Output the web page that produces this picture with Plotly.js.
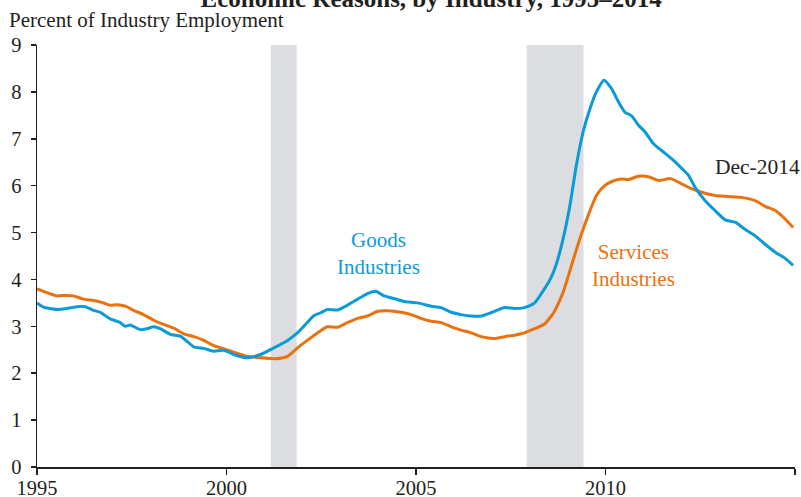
<!DOCTYPE html>
<html>
<head>
<meta charset="utf-8">
<script src="https://cdn.plot.ly/plotly-3.0.1.min.js"></script>
<style>html,body{margin:0;padding:0;background:#fff;}#chart{width:801px;height:497px;}</style>
</head>
<body>
<div id="chart"></div>
<script>
// Goods industries (blue)
const goodsYears = [1995.0,1995.17,1995.52,1995.78,1996.05,1996.27,1996.49,1996.67,1996.93,1997.2,1997.33,1997.46,1997.72,1997.9,1998.08,1998.25,1998.52,1998.78,1998.96,1999.14,1999.4,1999.66,1999.93,2000.19,2000.55,2000.9,2001.25,2001.61,2001.87,2002.13,2002.31,2002.49,2002.66,2002.93,2003.19,2003.46,2003.72,2003.94,2004.16,2004.43,2004.69,2005.04,2005.4,2005.66,2005.93,2006.19,2006.46,2006.72,2006.98,2007.34,2007.6,2007.86,2008.13,2008.39,2008.57,2008.7,2008.88,2009.06,2009.23,2009.41,2009.59,2009.76,2009.96,2010.16,2010.34,2010.51,2010.69,2010.87,2011.04,2011.26,2011.48,2011.75,2012.01,2012.19,2012.36,2012.63,2012.89,2013.16,2013.42,2013.68,2013.95,2014.21,2014.48,2014.74,2014.95];
const goodsValues = [3.50,3.41,3.36,3.38,3.42,3.42,3.34,3.30,3.16,3.08,3.00,3.03,2.93,2.95,2.99,2.95,2.83,2.79,2.68,2.56,2.53,2.47,2.49,2.40,2.33,2.40,2.54,2.70,2.86,3.08,3.23,3.29,3.36,3.35,3.45,3.58,3.70,3.75,3.65,3.59,3.53,3.50,3.43,3.40,3.30,3.25,3.22,3.22,3.29,3.40,3.38,3.40,3.50,3.80,4.05,4.32,4.86,5.57,6.43,7.15,7.64,8.00,8.25,8.07,7.79,7.57,7.49,7.29,7.15,6.90,6.75,6.57,6.37,6.22,5.97,5.68,5.47,5.27,5.22,5.07,4.93,4.75,4.58,4.45,4.30];

// Services industries (orange)
const servYears = [1995.0,1995.26,1995.52,1995.78,1995.96,1996.22,1996.49,1996.75,1996.93,1997.11,1997.33,1997.55,1997.81,1998.08,1998.34,1998.61,1998.87,1999.14,1999.4,1999.66,1999.93,2000.19,2000.55,2000.9,2001.3,2001.61,2001.87,2002.13,2002.4,2002.66,2002.93,2003.19,2003.46,2003.72,2003.99,2004.25,2004.6,2004.87,2005.13,2005.4,2005.66,2005.93,2006.19,2006.46,2006.72,2007.07,2007.34,2007.6,2007.86,2008.13,2008.39,2008.57,2008.66,2008.88,2009.1,2009.32,2009.54,2009.76,2009.98,2010.2,2010.42,2010.6,2010.87,2011.13,2011.4,2011.71,2012.01,2012.28,2012.54,2012.89,2013.24,2013.59,2013.95,2014.21,2014.48,2014.74,2014.95];
const servValues = [3.80,3.72,3.65,3.66,3.65,3.58,3.55,3.50,3.45,3.46,3.43,3.34,3.25,3.13,3.04,2.96,2.84,2.78,2.70,2.59,2.52,2.45,2.36,2.33,2.31,2.36,2.54,2.70,2.86,2.99,2.98,3.08,3.17,3.22,3.32,3.33,3.30,3.25,3.17,3.11,3.08,2.99,2.92,2.86,2.78,2.74,2.78,2.81,2.86,2.95,3.05,3.22,3.33,3.72,4.29,4.86,5.36,5.79,6.00,6.10,6.14,6.13,6.20,6.19,6.11,6.15,6.04,5.93,5.86,5.79,5.77,5.75,5.68,5.56,5.47,5.29,5.11];

// Recessions
const recessionStarts = [2001.17, 2007.92];
const recessionEnds = [2001.85, 2009.42];

const tickYears = [1995, 2000, 2005, 2010, 2015];
const tickYearLabels = ['1995', '2000', '2005', '2010', ''];
const yTicks = [0,1,2,3,4,5,6,7,8,9];

const BLUE = '#0b9ad8';
const ORANGE = '#e9720f';
const FONT = 'Liberation Serif, Times New Roman, serif';

const traces = [
  {x: servYears, y: servValues, type: 'scatter', mode: 'lines', name: 'Services Industries',
   line: {color: ORANGE, width: 3, shape: 'spline', smoothing: 0.6}},
  {x: goodsYears, y: goodsValues, type: 'scatter', mode: 'lines', name: 'Goods Industries',
   line: {color: BLUE, width: 3, shape: 'spline', smoothing: 0.6}}
];

const shapes = recessionStarts.map((s, i) => ({
  type: 'rect', xref: 'x', yref: 'y', x0: s, x1: recessionEnds[i], y0: 0, y1: 9,
  fillcolor: '#dcdde0', line: {width: 0}, layer: 'below'
}));

const layout = {
  width: 801, height: 497,
  margin: {l: 37, r: 6, t: 45, b: 30},
  paper_bgcolor: '#fff', plot_bgcolor: '#fff',
  showlegend: false,
  font: {family: FONT, color: '#231f20', size: 20},
  title: {text: '<b>Economic Reasons, by Industry, 1995–2014</b>', font: {family: FONT, size: 25, color: '#231f20'},
          x: 0.52, xanchor: 'center', xref: 'paper', yref: 'container', y: 0.986, yanchor: 'bottom'},
  xaxis: {range: [1995, 2015], tickvals: tickYears, ticktext: tickYearLabels,
          showgrid: false, zeroline: false, showline: true, linecolor: '#231f20', linewidth: 1.5,
          ticks: 'outside', ticklen: 6, tickwidth: 1.5, tickcolor: '#231f20', ticklabelstandoff: -4,
          tickfont: {family: FONT, size: 20.5, color: '#231f20'}},
  yaxis: {range: [0, 9], tickvals: yTicks, showgrid: false, zeroline: false,
          showline: true, linecolor: '#231f20', linewidth: 1.5,
          ticks: 'outside', ticklen: 5, tickwidth: 1.5, tickcolor: '#231f20', ticklabelstandoff: 5,
          tickfont: {family: FONT, size: 20.5, color: '#231f20'}},
  shapes: shapes,
  annotations: [
    {xref: 'paper', yref: 'paper', x: -0.039, y: 1.0592, xanchor: 'left', yanchor: 'middle',
     text: 'Percent of Industry Employment', showarrow: false, font: {family: FONT, size: 21, color: '#231f20'}},
    {xref: 'x', yref: 'y', x: 2004.0, y: 4.55, text: 'Goods<br>Industries', showarrow: false,
     align: 'center', font: {family: FONT, size: 21, color: BLUE}},
    {xref: 'x', yref: 'y', x: 2010.75, y: 4.30, text: 'Services<br>Industries', showarrow: false,
     align: 'center', font: {family: FONT, size: 21, color: ORANGE}},
    {xref: 'x', yref: 'y', x: 2014.0, y: 6.39, text: 'Dec-2014', showarrow: false,
     font: {family: FONT, size: 21.5, color: '#231f20'}}
  ]
};

Plotly.newPlot('chart', traces, layout, {staticPlot: true, displayModeBar: false});
</script>
</body>
</html>
